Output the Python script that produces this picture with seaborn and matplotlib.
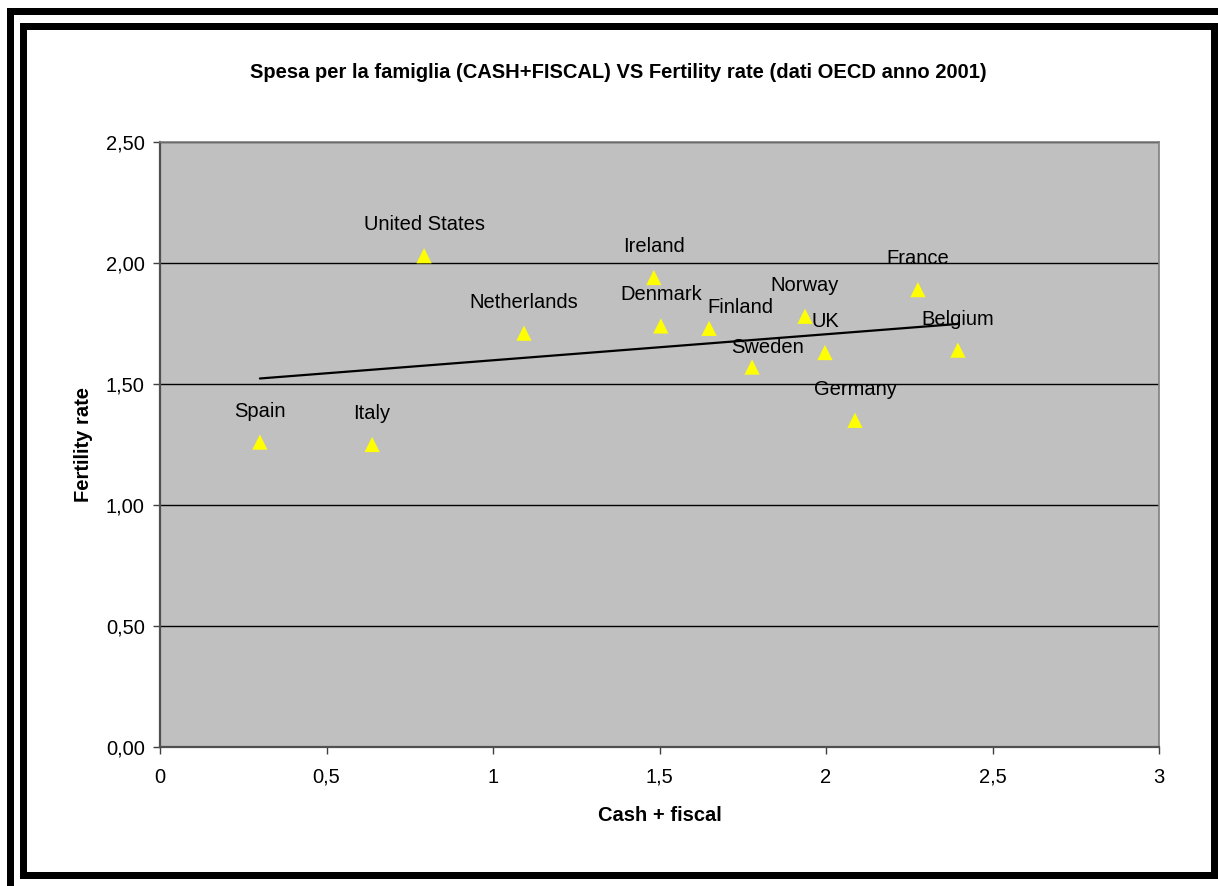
import matplotlib
matplotlib.use("Agg")
import matplotlib.pyplot as plt
from matplotlib.patches import Rectangle
from matplotlib.ticker import FuncFormatter
import seaborn as sns
import pandas as pd

# ---- data ----
countries = ["Spain", "Italy", "United States", "Netherlands", "Ireland", "Denmark",
             "Finland", "Sweden", "Norway", "UK", "Germany", "France", "Belgium"]
cash_fiscal = [0.30, 0.637, 0.793, 1.093, 1.483, 1.504, 1.649, 1.778, 1.937, 1.997, 2.087, 2.276, 2.396]
fertility = [1.26, 1.25, 2.03, 1.71, 1.94, 1.74, 1.73, 1.57, 1.78, 1.63, 1.35, 1.89, 1.64]
x_ticks = [0, 0.5, 1, 1.5, 2, 2.5, 3]
y_ticks = [0, 0.5, 1.0, 1.5, 2.0, 2.5]

title = "Spesa per la famiglia (CASH+FISCAL) VS Fertility rate (dati OECD anno 2001)"
x_label = "Cash + fiscal"
y_label = "Fertility rate"

# label offsets in pixels (dx right, dy up) -- layout only
label_offsets = {"Finland": (31, 21), "Sweden": (15, 20), "Denmark": (0, 31)}

df = pd.DataFrame({"country": countries, "cash": cash_fiscal, "fert": fertility})

sns.set_style("white")
plt.rcParams["font.family"] = ["Liberation Sans", "DejaVu Sans"]
plt.rcParams["text.color"] = "black"
plt.rcParams["axes.labelcolor"] = "black"

FS = 14.5
W, H = 1218, 886
fig = plt.figure(figsize=(W / 100, H / 100), dpi=100)
ax = fig.add_axes([160 / W, 1 - 747 / H, (1159 - 160) / W, (747 - 142) / H])
ax.set_facecolor("#C0C0C0")

# trend line (linear fit)
sns.regplot(data=df, x="cash", y="fert", ax=ax, ci=None, scatter=False, truncate=True,
            line_kws={"color": "black", "lw": 1.6, "zorder": 3})
# points
sns.scatterplot(data=df, x="cash", y="fert", ax=ax, marker="^", s=120, color="#FFFF00",
                edgecolor="none", linewidth=0, zorder=4)

for name, xv, yv in zip(countries, cash_fiscal, fertility):
    dx, dy = label_offsets.get(name, (0, 31))
    ax.annotate(name, (xv, yv), xytext=(dx * 0.72, dy * 0.72), textcoords="offset points",
                ha="center", va="center", fontsize=FS, color="black", zorder=5)

ax.set_xlim(0, 3)
ax.set_ylim(0, 2.5)
ax.set_xticks(x_ticks)
ax.set_yticks(y_ticks)
ax.xaxis.set_major_formatter(FuncFormatter(lambda v, p: ("%g" % v).replace(".", ",")))
ax.yaxis.set_major_formatter(FuncFormatter(lambda v, p: ("%.2f" % v).replace(".", ",")))
ax.yaxis.grid(True, color="black", lw=1.0)
ax.xaxis.grid(False)
ax.set_axisbelow(True)

ax.tick_params(axis="both", which="major", direction="out", length=5, width=1,
               color="#404040", labelsize=FS, labelcolor="black")
ax.tick_params(axis="y", left=True, pad=6)
ax.tick_params(axis="x", bottom=True, pad=10)

for s in ["left", "bottom"]:
    ax.spines[s].set_color("#505050")
    ax.spines[s].set_linewidth(1.6)
for s in ["top", "right"]:
    ax.spines[s].set_color("#808080")
    ax.spines[s].set_linewidth(1.2)
    ax.spines[s].set_visible(True)

ax.set_xlabel(x_label, fontsize=FS, fontweight="bold", labelpad=14, color="black")
ax.set_ylabel(y_label, fontsize=FS, fontweight="bold", labelpad=9, color="black")

fig.text(618 / W, 1 - 73 / H, title, ha="center", va="center", fontsize=FS,
         fontweight="bold", color="black")

# frames
def px_rect(x0, y0, x1, y1, lw):
    return Rectangle((x0 / W, 1 - y1 / H), (x1 - x0) / W, (y1 - y0) / H,
                     transform=fig.transFigure, fill=False, edgecolor="black",
                     linewidth=lw * 0.72, clip_on=False)

fig.patches.append(px_rect(9.5, 11.5, 1235, 887.5, 7))
fig.patches.append(px_rect(22.5, 25.5, 1213.5, 874.5, 7))

fig.savefig("out.png", dpi=100)
